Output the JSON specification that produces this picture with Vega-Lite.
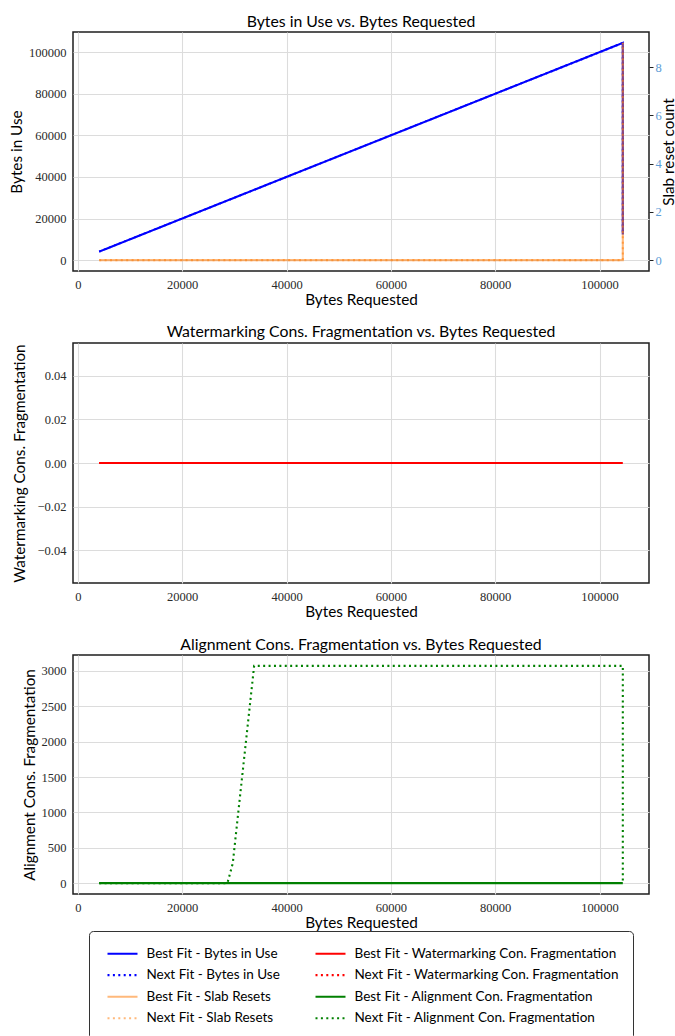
{
  "$schema": "https://vega.github.io/schema/vega-lite/v6.json",
  "padding": {"left": 8, "top": 12, "right": 0, "bottom": 0},
  "background": "white",
  "spacing": 72,
  "bounds": "flush",
  "datasets": {
    "runs": [
      {"i": 0, "s": "Best Fit - Bytes in Use", "x": 4096, "y": 4096},
      {"i": 1, "s": "Best Fit - Bytes in Use", "x": 104448, "y": 104448},
      {"i": 2, "s": "Best Fit - Bytes in Use", "x": 104448, "y": 12288},
      {"i": 0, "s": "Next Fit - Bytes in Use", "x": 4096, "y": 4096},
      {"i": 1, "s": "Next Fit - Bytes in Use", "x": 104448, "y": 104448},
      {"i": 2, "s": "Next Fit - Bytes in Use", "x": 104448, "y": 12288},
      {"i": 0, "s": "Best Fit - Slab Resets", "x": 4096, "y": 0},
      {"i": 1, "s": "Best Fit - Slab Resets", "x": 104448, "y": 0},
      {"i": 2, "s": "Best Fit - Slab Resets", "x": 104448, "y": 9},
      {"i": 0, "s": "Next Fit - Slab Resets", "x": 4096, "y": 0},
      {"i": 1, "s": "Next Fit - Slab Resets", "x": 104448, "y": 0},
      {"i": 2, "s": "Next Fit - Slab Resets", "x": 104448, "y": 9},
      {"i": 0, "s": "Best Fit - Watermarking Con. Fragmentation", "x": 4096, "y": 0},
      {"i": 1, "s": "Best Fit - Watermarking Con. Fragmentation", "x": 104448, "y": 0},
      {"i": 0, "s": "Next Fit - Watermarking Con. Fragmentation", "x": 4096, "y": 0},
      {"i": 1, "s": "Next Fit - Watermarking Con. Fragmentation", "x": 104448, "y": 0},
      {"i": 0, "s": "Best Fit - Alignment Con. Fragmentation", "x": 4096, "y": 0},
      {"i": 1, "s": "Best Fit - Alignment Con. Fragmentation", "x": 104448, "y": 0},
      {"i": 0, "s": "Next Fit - Alignment Con. Fragmentation", "x": 4096, "y": 0},
      {"i": 1, "s": "Next Fit - Alignment Con. Fragmentation", "x": 28672, "y": 0},
      {"i": 2, "s": "Next Fit - Alignment Con. Fragmentation", "x": 29696, "y": 280},
      {"i": 3, "s": "Next Fit - Alignment Con. Fragmentation", "x": 33792, "y": 3072},
      {"i": 4, "s": "Next Fit - Alignment Con. Fragmentation", "x": 104448, "y": 3072},
      {"i": 5, "s": "Next Fit - Alignment Con. Fragmentation", "x": 104448, "y": 0}
    ]
  },
  "data": {"name": "runs"},
  "config": {
    "view": {"stroke": "#1e1e1e", "strokeWidth": 1.5},
    "font": "Lato",
    "title": {"font": "Lato", "fontSize": 15.8, "fontWeight": "normal", "color": "#000", "offset": 1.5},
    "axis": {
      "labelFont": "Liberation Serif",
      "labelFontSize": 12.5,
      "labelColor": "#2a2a2a",
      "titleFont": "Lato",
      "titleFontSize": 15.3,
      "titleFontWeight": "normal",
      "titleColor": "#000",
      "gridColor": "#dcdcdc",
      "gridWidth": 1.1,
      "gridOpacity": 1,
      "domain": false,
      "ticks": false,
      "labelPadding": 7,
      "titlePadding": 4
    },
    "line": {"strokeWidth": 2.1, "clip": true}
  },
  "resolve": {
    "scale": {"color": "shared", "strokeDash": "shared"},
    "legend": {"color": "shared", "strokeDash": "shared"}
  },
  "vconcat": [
    {
      "title": "Bytes in Use vs. Bytes Requested",
      "width": 576,
      "height": 239,
      "layer": [
        {
          "transform": [{"filter": {"field": "s", "oneOf": ["Best Fit - Bytes in Use", "Next Fit - Bytes in Use"]}}],
          "mark": {"type": "line"},
          "encoding": {
            "x": {"field": "x", "type": "quantitative", "scale": {"domain": [-922, 109466], "nice": false, "zero": false},
                  "axis": {"title": "Bytes Requested", "values": [0, 20000, 40000, 60000, 80000, 100000], "format": "d", "titlePadding": 2}},
            "y": {"field": "y", "type": "quantitative", "scale": {"domain": [-5222, 109670], "nice": false, "zero": false},
                  "axis": {"title": "Bytes in Use", "values": [0, 20000, 40000, 60000, 80000, 100000], "format": "d"}},
            "order": {"field": "i", "type": "quantitative"},
            "color": {"field": "s", "type": "nominal",
              "scale": {"domain": ["Best Fit - Bytes in Use", "Next Fit - Bytes in Use", "Best Fit - Slab Resets", "Next Fit - Slab Resets", "Best Fit - Watermarking Con. Fragmentation", "Next Fit - Watermarking Con. Fragmentation", "Best Fit - Alignment Con. Fragmentation", "Next Fit - Alignment Con. Fragmentation"],
                        "range": ["#0000ff", "#0000ff", "rgba(255,127,14,0.55)", "rgba(255,127,14,0.55)", "#ff0000", "#ff0000", "#008000", "#008000"]},
              "legend": {"orient": "none", "legendX": 16, "legendY": 899, "columns": 2, "title": null,
                         "symbolType": "M-2,0H2", "symbolSize": 225, "symbolStrokeWidth": 2.1, "symbolFillColor": "transparent",
                         "symbolOffset": 11,
                         "labelFont": "Lato", "labelFontSize": 13.5, "labelColor": "#000", "labelLimit": 400, "labelOffset": 15,
                         "rowPadding": 5.6, "columnPadding": 30, "padding": 13.5,
                         "strokeColor": "#333", "cornerRadius": 4, "fillColor": "white"}},
            "strokeDash": {"field": "s", "type": "nominal",
              "scale": {"domain": ["Best Fit - Bytes in Use", "Next Fit - Bytes in Use", "Best Fit - Slab Resets", "Next Fit - Slab Resets", "Best Fit - Watermarking Con. Fragmentation", "Next Fit - Watermarking Con. Fragmentation", "Best Fit - Alignment Con. Fragmentation", "Next Fit - Alignment Con. Fragmentation"],
                        "range": [[1, 0], [2, 3.4], [1, 0], [2, 3.4], [1, 0], [2, 3.4], [1, 0], [2, 3.4]]}}
          }
        },
        {
          "transform": [{"filter": {"field": "s", "oneOf": ["Best Fit - Slab Resets", "Next Fit - Slab Resets"]}}],
          "mark": {"type": "line"},
          "encoding": {
            "x": {"field": "x", "type": "quantitative"},
            "y": {"field": "y", "type": "quantitative", "scale": {"domain": [-0.45, 9.45], "nice": false, "zero": false},
                  "axis": {"title": "Slab reset count", "orient": "right", "values": [0, 2, 4, 6, 8], "format": "d", "grid": false,
                           "labelColor": "#5d9cd6", "ticks": true, "tickSize": 4, "tickColor": "#222", "labelPadding": 2,
                           "titleAngle": 270, "titleBaseline": "top", "titlePadding": 0}},
            "order": {"field": "i", "type": "quantitative"},
            "color": {"field": "s", "type": "nominal"},
            "strokeDash": {"field": "s", "type": "nominal"}
          }
        }
      ],
      "resolve": {"scale": {"y": "independent"}, "axis": {"y": "independent"}}
    },
    {
      "title": "Watermarking Cons. Fragmentation vs. Bytes Requested",
      "width": 576,
      "height": 240,
      "transform": [{"filter": {"field": "s", "oneOf": ["Best Fit - Watermarking Con. Fragmentation", "Next Fit - Watermarking Con. Fragmentation"]}}],
      "mark": {"type": "line"},
      "encoding": {
        "x": {"field": "x", "type": "quantitative", "scale": {"domain": [-922, 109466], "nice": false, "zero": false},
              "axis": {"title": "Bytes Requested", "values": [0, 20000, 40000, 60000, 80000, 100000], "format": "d", "titlePadding": 2}},
        "y": {"field": "y", "type": "quantitative", "scale": {"domain": [-0.055, 0.055], "nice": false, "zero": false},
              "axis": {"title": "Watermarking Cons.  Fragmentation", "values": [-0.04, -0.02, 0, 0.02, 0.04], "format": ".2f", "titlePadding": 10}},
        "order": {"field": "i", "type": "quantitative"},
        "color": {"field": "s", "type": "nominal"},
        "strokeDash": {"field": "s", "type": "nominal"}
      }
    },
    {
      "title": "Alignment Cons. Fragmentation vs. Bytes Requested",
      "width": 576,
      "height": 239,
      "transform": [{"filter": {"field": "s", "oneOf": ["Best Fit - Alignment Con. Fragmentation", "Next Fit - Alignment Con. Fragmentation"]}}],
      "mark": {"type": "line"},
      "encoding": {
        "x": {"field": "x", "type": "quantitative", "scale": {"domain": [-922, 109466], "nice": false, "zero": false},
              "axis": {"title": "Bytes Requested", "values": [0, 20000, 40000, 60000, 80000, 100000], "format": "d", "titlePadding": 2}},
        "y": {"field": "y", "type": "quantitative", "scale": {"domain": [-153.6, 3225.6], "nice": false, "zero": false},
              "axis": {"title": "Alignment Cons.  Fragmentation", "values": [0, 500, 1000, 1500, 2000, 2500, 3000], "format": "d"}},
        "order": {"field": "i", "type": "quantitative"},
        "color": {"field": "s", "type": "nominal"},
        "strokeDash": {"field": "s", "type": "nominal"}
      }
    }
  ]
}
